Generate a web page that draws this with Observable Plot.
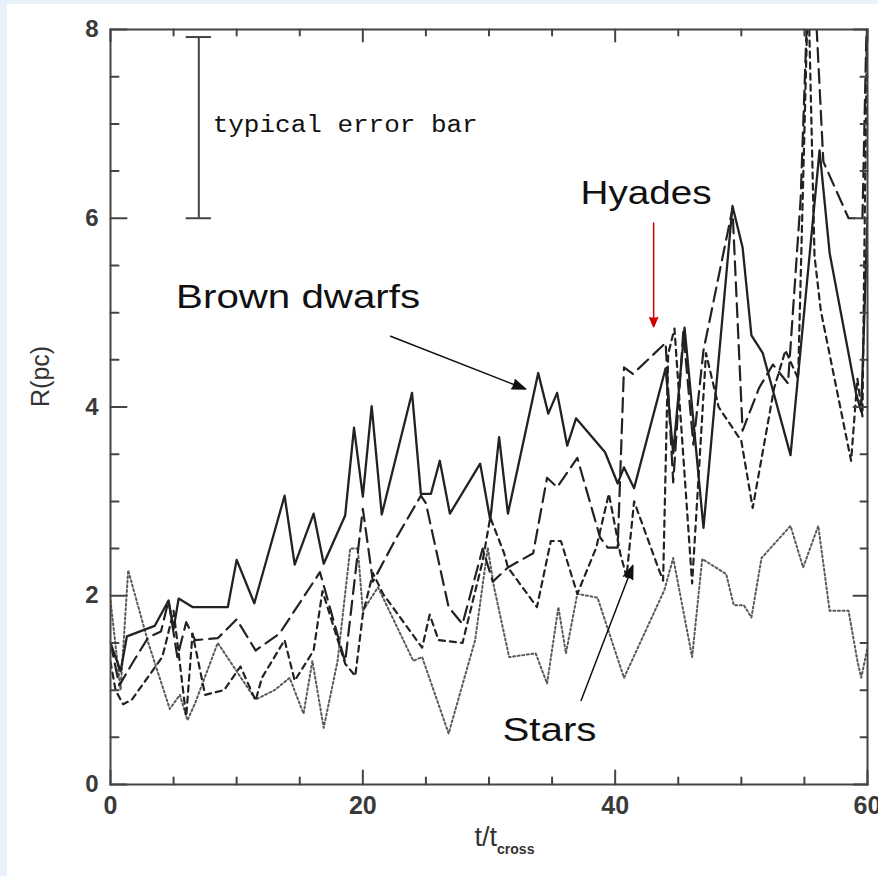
<!DOCTYPE html>
<html><head><meta charset="utf-8">
<script src="https://cdn.jsdelivr.net/npm/d3@7"></script>
<script src="https://cdn.jsdelivr.net/npm/@observablehq/plot@0.6"></script>
<style>
html,body{margin:0;padding:0;background:#e9f2fb;overflow:hidden;width:878px;height:876px;}
#wrap{position:absolute;left:7px;top:4px;width:871px;height:872px;background:#fff;}
svg{display:block;}
</style></head><body><div id="wrap"></div>
<script>
// ---- data (t / t_cross, R in pc) ----
const solidLine = [[0,1.5],[0.8,1.2],[1.3,1.57],[3.5,1.68],[4.6,1.95],[5.0,1.65],[5.4,1.97],[6.5,1.88],[9.3,1.88],[10.0,2.38],[11.4,1.92],[13.8,3.06],[14.6,2.33],[16.1,2.87],[16.9,2.34],[18.6,2.85],[19.3,3.78],[20.0,3.05],[20.7,4.01],[21.5,2.86],[23.9,4.15],[24.6,3.08],[25.4,3.08],[26.1,3.43],[26.9,2.87],[29.3,3.40],[30.1,2.80],[30.8,3.68],[31.5,2.87],[33.9,4.36],[34.7,3.93],[35.4,4.15],[36.2,3.59],[36.9,3.88],[39.2,3.52],[40.2,3.19],[40.7,3.36],[41.5,3.14],[44.0,4.41],[44.6,3.51],[45.5,4.84],[47.0,2.72],[49.3,6.13],[50.1,5.69],[50.8,4.76],[51.7,4.57],[53.9,3.49],[56.2,6.72],[57.0,5.63],[59.1,4.14],[59.5,3.95],[60.0,6.0]];
const longDashLine = [[0,1.5],[0.7,1.05],[1.8,1.3],[3.0,1.56],[4.0,1.62],[4.6,1.95],[5.3,1.35],[6.0,1.72],[6.7,1.53],[8.5,1.55],[10.0,1.75],[11.5,1.42],[13.4,1.6],[16.6,2.25],[18.6,1.3],[20.0,2.92],[20.8,2.15],[22.6,2.6],[24.6,3.06],[25.0,2.98],[26.8,1.88],[27.9,1.7],[29.5,2.5],[30.3,2.15],[31.5,2.3],[33.5,2.45],[34.6,3.25],[35.4,3.15],[37.0,3.46],[38.8,2.62],[39.4,2.51],[40.2,2.51],[40.7,4.42],[41.4,4.35],[44.0,4.68],[44.6,3.2],[45.4,4.8],[46.2,3.6],[47.0,4.6],[49.3,6.1],[50.1,3.75],[51.4,4.2],[52.5,4.45],[53.7,4.25],[54.7,6.2],[55.3,8.5],[55.9,8.2],[56.5,6.6],[57.5,6.3],[58.5,6.0],[59.6,6.0],[60.0,8.5]];
const shortDashLine = [[0,1.3],[0.4,1.0],[1.0,0.85],[1.7,0.9],[4.1,1.35],[4.5,1.56],[5.0,1.84],[6.0,0.72],[6.5,1.6],[7.5,0.95],[9.0,1.0],[10.3,1.25],[11.5,0.89],[12.0,1.13],[13.8,1.53],[14.6,1.1],[16.1,1.42],[16.8,2.05],[18.6,1.28],[19.4,1.15],[20.0,1.8],[20.8,2.24],[21.6,2.02],[24.7,1.45],[25.3,1.8],[26.0,1.53],[27.9,1.5],[29.5,2.37],[30.1,2.83],[31.2,2.45],[31.5,2.3],[33.8,1.88],[34.9,2.58],[35.7,2.58],[37.0,2.02],[38.5,2.51],[39.5,3.08],[40.4,2.45],[40.9,2.2],[41.5,3.0],[43.4,2.3],[43.8,2.16],[44.2,4.56],[44.7,4.83],[46.1,2.13],[47.2,4.57],[48.2,4.0],[50.0,3.64],[50.9,2.93],[52.6,4.2],[53.5,4.6],[54.5,4.3],[55.3,8.5],[55.8,5.6],[56.3,5.02],[58.7,3.43],[59.2,4.3],[59.6,3.9],[60.0,8.5]];
const dottedLine = [[0,1.95],[0.8,1.0],[1.4,2.27],[3.0,1.5],[4.7,0.8],[5.5,0.95],[6.1,0.68],[6.7,0.86],[8.5,1.5],[11.5,0.9],[13.0,1.0],[14.2,1.13],[15.3,0.75],[16.0,1.31],[16.9,0.6],[18.0,1.31],[19.0,2.5],[19.6,2.5],[20.0,1.84],[21.2,2.09],[24.0,1.31],[24.7,1.35],[26.8,0.54],[28.9,1.53],[29.9,2.51],[30.4,2.09],[31.6,1.35],[33.7,1.39],[34.6,1.07],[35.5,1.88],[36.1,1.39],[37.0,2.02],[38.6,1.98],[40.7,1.13],[43.9,2.06],[44.6,2.4],[46.1,1.35],[46.9,2.39],[48.8,2.23],[49.4,1.9],[50.2,1.9],[50.8,1.77],[51.6,2.4],[53.9,2.74],[54.9,2.3],[56.1,2.74],[57.0,1.84],[58.5,1.84],[59.2,1.31],[59.5,1.13],[60.0,1.45]];

const xMajorTicks = [0,20,40,60];
const xMinorTicks = [5,10,15,25,30,35,45,50,55];
const yMajorTicks = [0,2,4,6,8];
const yMinorTicks = [0.5,1,1.5,2.5,3,3.5,4.5,5,5.5,6.5,7,7.5];

const errorBar = [{t:7, low:6.0, high:7.92, capFrom:6.0, capTo:8.0}];
const labels = [
  {text:"typical error bar", t:8.1, r:6.99, font:"Liberation Mono, Courier New, monospace", size:23, width:265, weight:"normal"},
  {text:"Hyades", t:37.26, r:6.26, font:"Liberation Sans, Arial, sans-serif", size:33, width:131, weight:"normal"},
  {text:"Brown dwarfs", t:5.2, r:5.16, font:"Liberation Sans, Arial, sans-serif", size:33, width:244, weight:"normal"},
  {text:"Stars", t:31.07, r:0.57, font:"Liberation Sans, Arial, sans-serif", size:33, width:94, weight:"normal"}
];
const arrowsBlack = [
  {x1:22.2, y1:4.75, x2:32.9, y2:4.19},
  {x1:37.3, y1:0.89, x2:41.4, y2:2.32}
];
const arrowsRed = [{x1:43.05, y1:5.95, x2:43.05, y2:4.85}];

const toRows = pts => pts.map(([t,r]) => ({t, r}));

const tickShape = {draw(ctx, l){ ctx.moveTo(0,0); ctx.lineTo(0,-l); }};
const ticks = (vals, chan, frameAnchor, rotate, length) =>
  Plot.vector(vals, {[chan]: d => d, frameAnchor, rotate, length, anchor:"start", shape: tickShape, stroke:"#444", strokeWidth:2});

const chart = Plot.plot({
  width: 871, height: 872,
  marginLeft: 103, marginRight: 11, marginTop: 25, marginBottom: 92,
  style: {fontFamily: "Liberation Sans, Arial, sans-serif", color: "#333", background: "#fff"},
  x: {domain: [0,60]},
  y: {domain: [0,8]},
  marks: [
    Plot.line(toRows(dottedLine), {x:"t", y:"r", stroke:"#5a5a5a", strokeWidth:2, strokeDasharray:"2,2.6", clip:true}),
    Plot.line(toRows(shortDashLine), {x:"t", y:"r", stroke:"#222", strokeWidth:2.2, strokeDasharray:"6,5", clip:true}),
    Plot.line(toRows(longDashLine), {x:"t", y:"r", stroke:"#222", strokeWidth:2.2, strokeDasharray:"14,7", clip:true}),
    Plot.line(toRows(solidLine), {x:"t", y:"r", stroke:"#222", strokeWidth:2.3, clip:true}),
    Plot.frame({stroke:"#444", strokeWidth:2}),
    ticks(xMajorTicks, "x", "bottom", 0, 14),
    ticks(xMinorTicks, "x", "bottom", 0, 7),
    ticks(xMajorTicks, "x", "top", 180, 12),
    ticks(xMinorTicks, "x", "top", 180, 6),
    ticks(yMajorTicks, "y", "left", 90, 16),
    ticks(yMinorTicks, "y", "left", 90, 8),
    ticks(yMajorTicks, "y", "right", -90, 14),
    ticks(yMinorTicks, "y", "right", -90, 7),
    Plot.axisX({ticks: xMajorTicks, tickSize: 0, tickPadding: 12, fontSize: 25, fontWeight: "bold", fill: "#3a3a3a", label: null, anchor: "bottom"}),
    Plot.axisY({ticks: yMajorTicks, tickSize: 0, tickPadding: 12, fontSize: 24, fontWeight: "bold", fill: "#3a3a3a", label: null, anchor: "left"}),
    Plot.text(["R(pc)"], {frameAnchor: "left", dx: -70, rotate: -90, fontSize: 25, fill: "#333"}),
    Plot.ruleX(errorBar, {x:"t", y1:"low", y2:"high", stroke:"#444", strokeWidth:2}),
    Plot.ruleY(errorBar, {y:"low", x1:"capFrom", x2:"capTo", stroke:"#444", strokeWidth:2}),
    Plot.ruleY(errorBar, {y:"high", x1:"capFrom", x2:"capTo", stroke:"#444", strokeWidth:2}),
    Plot.arrow(arrowsBlack, {x1:"x1", y1:"y1", x2:"x2", y2:"y2", stroke:"#111", fill:"#111", strokeWidth:1.5, headLength:14, headAngle:40}),
    Plot.arrow(arrowsRed, {x1:"x1", y1:"y1", x2:"x2", y2:"y2", stroke:"#d00000", fill:"#d00000", strokeWidth:1.5, headLength:10, headAngle:45}),
    ...labels.map(d => Plot.text([d], {x:"t", y:"r", text:"text", textAnchor:"start", lineAnchor:"middle", fontSize:d.size, fontFamily:d.font, fontWeight:d.weight, fill:"#111"}))
  ]
});

// stretch annotation texts to the widths of the reference
const svg = d3.select(chart.tagName === "svg" ? chart : chart.querySelector("svg"));
const widths = Object.fromEntries(labels.map(d => [d.text, d.width]));
svg.selectAll("text").each(function(){
  const k = this.textContent;
  if (widths[k]) { this.setAttribute("textLength", widths[k]); this.setAttribute("lengthAdjust", "spacingAndGlyphs"); }
});

// x axis label with subscript
const xs = chart.scale("x");
const xl = svg.append("text")
  .attr("x", xs.apply(30) + 16).attr("y", 842)
  .attr("text-anchor", "middle").attr("fill", "#333")
  .style("font-family", "Liberation Sans, Arial, sans-serif");
xl.append("tspan").attr("font-size", 27).text("t/t");
xl.append("tspan").attr("font-size", 14).attr("font-weight", "bold").attr("dy", 8).text("cross");

document.getElementById("wrap").appendChild(chart);
</script></body></html>
